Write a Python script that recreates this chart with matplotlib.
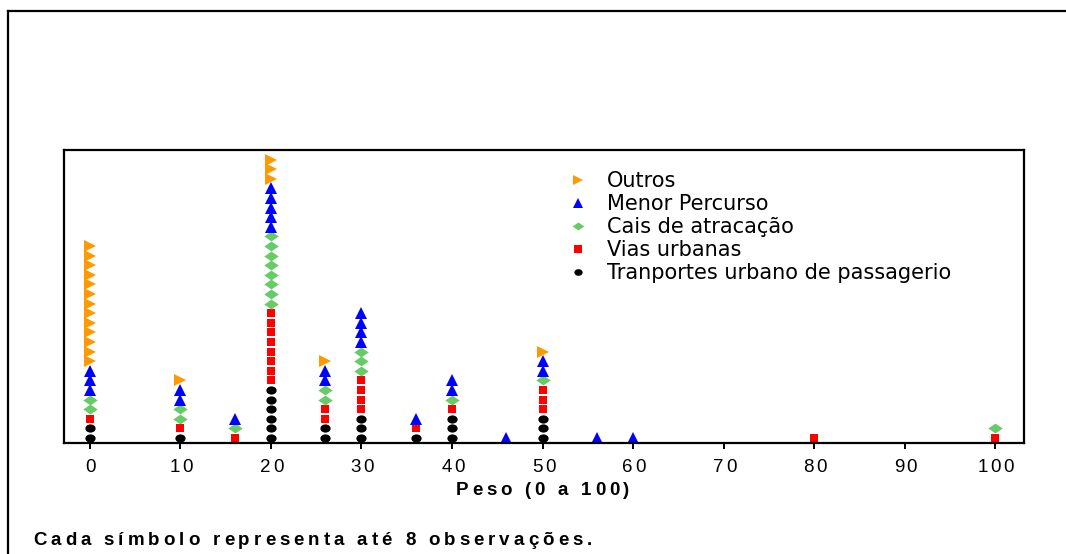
import numpy as np
import matplotlib
matplotlib.use("Agg")
import matplotlib.pyplot as plt
from matplotlib.path import Path
from matplotlib.lines import Line2D

# Stacked dot plot: counts of symbols per weight value (one symbol = up to 8 observations)
pesos = [0, 10, 16, 20, 26, 30, 36, 40, 46, 50, 56, 60, 80, 100]
transportes = [2, 1, 0, 6, 2, 3, 1, 3, 0, 3, 0, 0, 0, 0]
vias = [1, 1, 1, 8, 2, 4, 1, 1, 0, 3, 0, 0, 1, 1]
cais = [2, 2, 1, 8, 2, 3, 0, 1, 0, 1, 0, 0, 0, 1]
menor = [3, 2, 1, 5, 2, 4, 1, 2, 1, 2, 1, 1, 0, 0]
outros = [13, 1, 0, 3, 1, 0, 0, 0, 0, 1, 0, 0, 0, 0]

series_names = ["Tranportes urbano de passagerio", "Vias urbanas",
                "Cais de atracação", "Menor Percurso", "Outros"]
xticks = [0, 10, 20, 30, 40, 50, 60, 70, 80, 90, 100]
xlabel = "Peso (0 a 100)"
footnote = "Cada símbolo representa até 8 observações."

W, H = 1066, 554
fig = plt.figure(figsize=(W / 100, H / 100), dpi=100)
ax = fig.add_axes([64 / W, 1 - 443 / H, 960 / W, 293 / H])

# marker shapes
ellipse = Path.unit_circle()
ellipse = Path(ellipse.vertices * np.array([1.0, 0.8]), ellipse.codes)
diamond = Path([(-1, 0), (0, 0.68), (1, 0), (0, -0.68), (-1, 0)],
               [Path.MOVETO, Path.LINETO, Path.LINETO, Path.LINETO, Path.CLOSEPOLY])

styles = [
    dict(marker=ellipse, color="black", ms=7.4, lg=6.0),
    dict(marker="s", color="#ff0000", ms=5.9, lg=6.0),
    dict(marker=diamond, color="#66cc66", ms=10.4, lg=8.5),
    dict(marker="^", color="#0000ff", ms=8.8, lg=7.5),
    dict(marker=">", color="#ff9900", ms=8.8, lg=7.5),
]

counts = np.array([transportes, vias, cais, menor, outros])
starts = np.vstack([np.zeros(len(pesos), int), np.cumsum(counts, axis=0)[:-1]])

handles = []
for name, cnt, st, sty in zip(series_names, counts, starts, styles):
    xs = np.repeat(pesos, cnt)
    ys = np.concatenate([np.arange(s, s + c) for s, c in zip(st, cnt)])
    ax.plot(xs, ys, linestyle="none", marker=sty["marker"], color=sty["color"],
            markersize=sty["ms"], markeredgewidth=0, clip_on=False)
    handles.append(Line2D([], [], linestyle="none", marker=sty["marker"], color=sty["color"],
                          markersize=sty["lg"], markeredgewidth=0, label=name))

ax.set_xlim(-2.87, 103.2)
ax.set_ylim(-0.52, 30.0)
ax.set_yticks([])
ax.set_xticks(xticks)
ax.set_xticklabels([])
ax.tick_params(axis="x", direction="out", length=4.5, width=1.4, color="black")
for sp in ax.spines.values():
    sp.set_linewidth(1.6)

leg = ax.legend(handles=handles[::-1], loc="upper left",
                bbox_to_anchor=(568 / W, 1 - 171 / H), bbox_transform=fig.transFigure,
                frameon=False, handlelength=1.0, handletextpad=0.85,
                labelspacing=0.15, borderpad=0, borderaxespad=0,
                prop={"family": "DejaVu Sans", "size": 15})

# outer frame (left and top edges)
fig.add_artist(Line2D([8 / W, 8 / W], [0, 1 - 11 / H], color="black", lw=1.6,
                      transform=fig.transFigure))
fig.add_artist(Line2D([8 / W, 1], [1 - 11 / H, 1 - 11 / H], color="black", lw=1.6,
                      transform=fig.transFigure))

renderer = fig.canvas.get_renderer()


def tracked_text(s, x_disp, y_disp, width_px=None, track_px=2.0, ha="left", space_px=5.0, **kw):
    """Draw a string letter by letter with extra letter spacing (display coords)."""
    items = []
    for ch in s:
        if ch == " ":
            items.append((None, space_px))
            continue
        t = fig.text(0, 0, ch, transform=None, va="baseline", ha="left", **kw)
        w = t.get_window_extent(renderer).width
        items.append((t, w))
    n = len(items)
    natural = sum(w for _, w in items)
    if width_px is not None and n > 1:
        track_px = (width_px - natural) / (n - 1)
    total = natural + track_px * (n - 1)
    x = x_disp - (total / 2 if ha == "center" else 0)
    for t, w in items:
        if t is not None:
            t.set_position((x, y_disp))
        x += w + track_px


# tick labels
for v in xticks:
    xd = ax.transData.transform((v, 0))[0]
    tracked_text(str(v), xd + 1, H - 472, track_px=2.5, ha="center",
                 family="Liberation Sans", fontsize=13.5)

xc = ax.transData.transform((50, 0))[0]
tracked_text(xlabel, xc, H - 495, width_px=174, ha="center", space_px=5,
             family="Liberation Sans", fontsize=13.5, fontweight="bold")

tracked_text(footnote, 33, H - 545, width_px=559, ha="left", space_px=5,
             family="Liberation Sans", fontsize=13.5, fontweight="bold")

fig.savefig("out.png", dpi=100)
